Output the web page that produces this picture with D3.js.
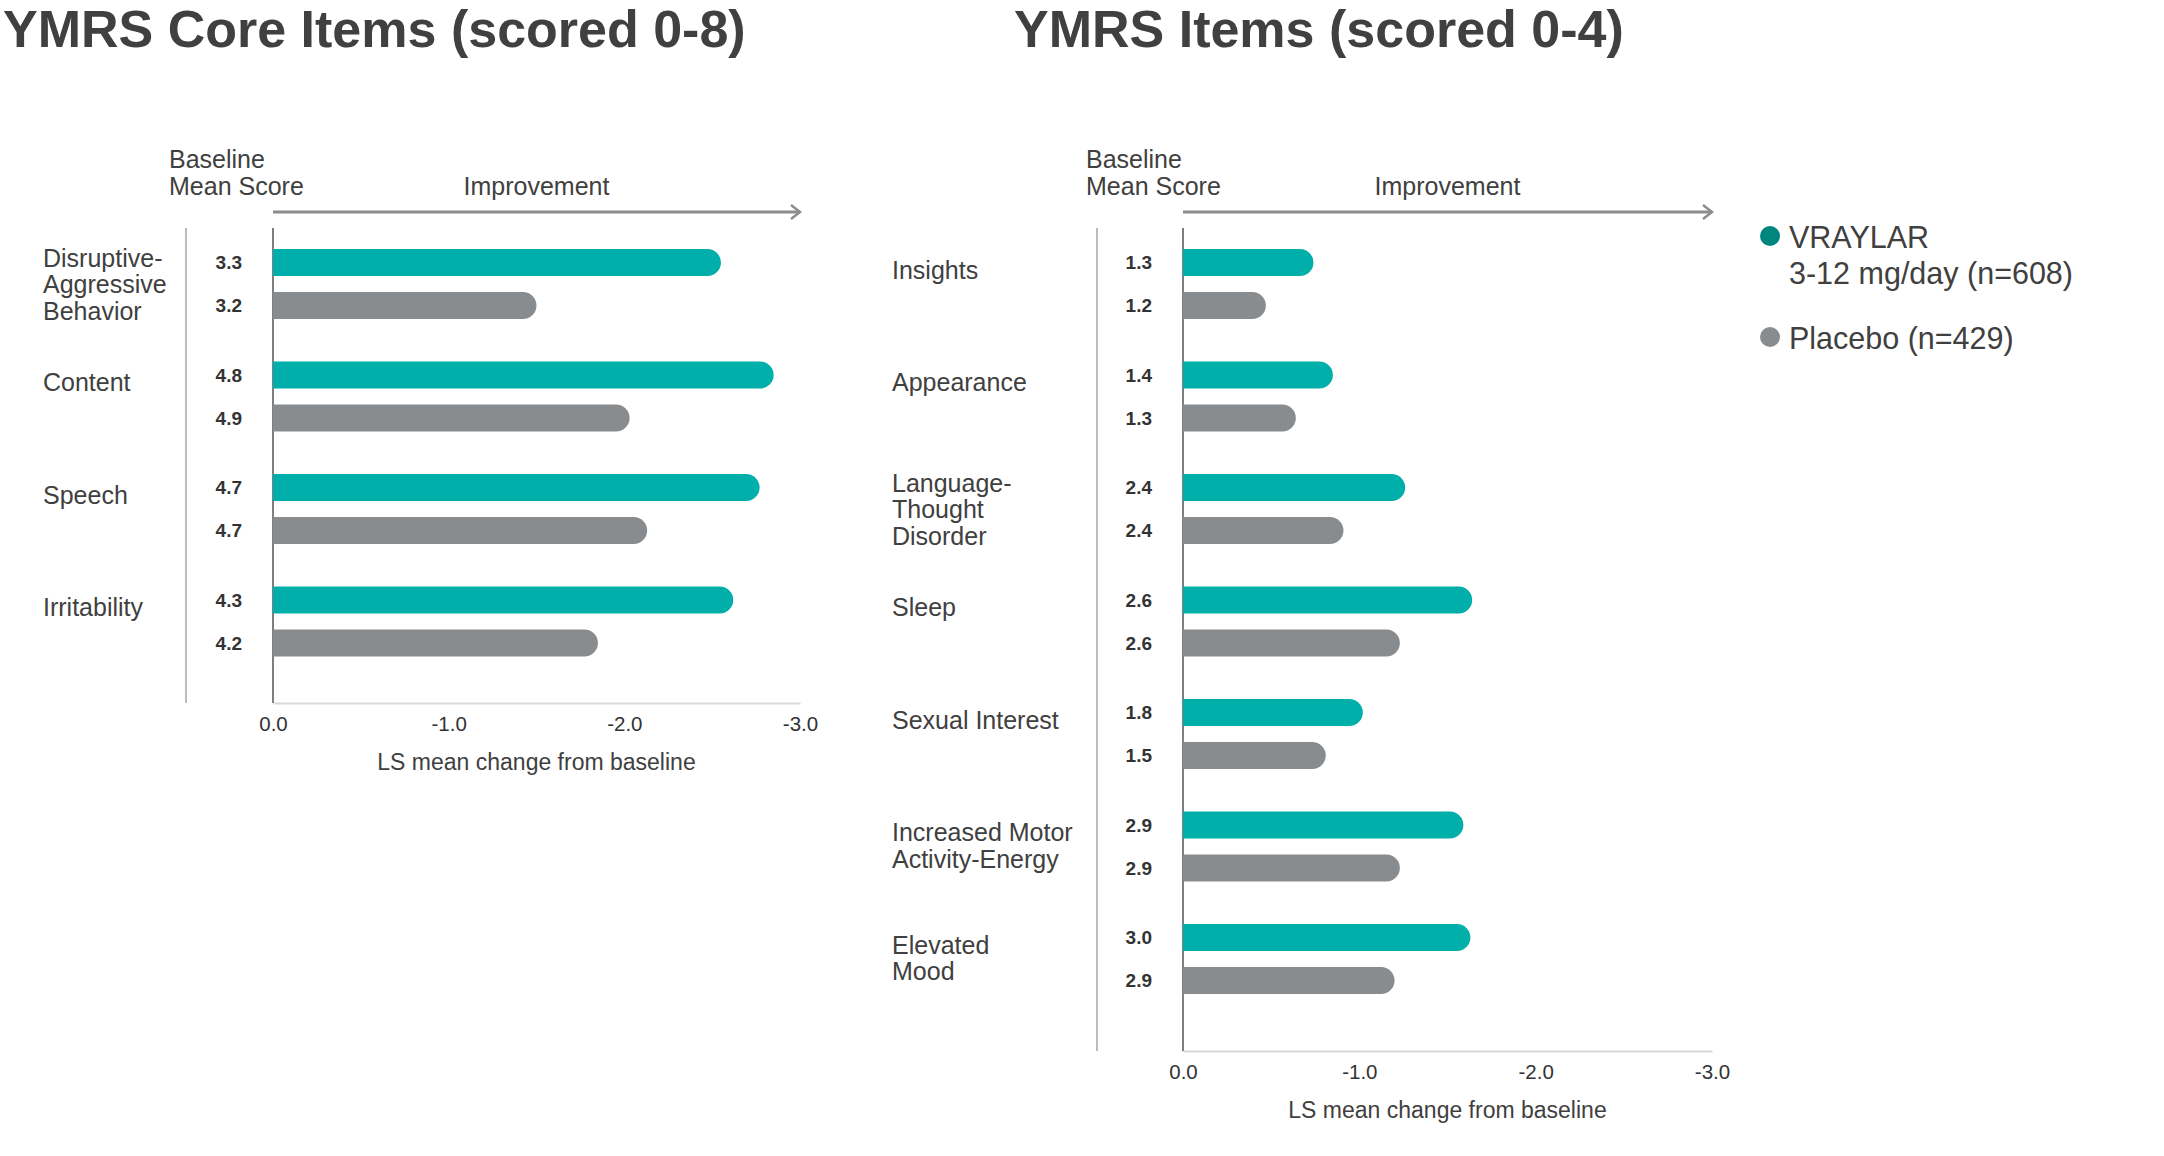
<!DOCTYPE html>
<html>
<head>
<meta charset="utf-8">
<script src="https://cdn.jsdelivr.net/npm/d3@7"></script>
<style>
  body { margin: 0; background: #fff; }
  svg { display: block; font-family: "Liberation Sans", Arial, sans-serif; }
</style>
</head>
<body>
<svg width="2164" height="1156"></svg>
<script>
// core items (scored 0-8)
var coreItems = [["Disruptive-", "Aggressive", "Behavior"], ["Content"], ["Speech"], ["Irritability"]];
var coreVraylar = [-2.55, -2.85, -2.77, -2.62];
var corePlacebo = [-1.50, -2.03, -2.13, -1.85];
var coreBaseVraylar = ["3.3", "4.8", "4.7", "4.3"];
var coreBasePlacebo = ["3.2", "4.9", "4.7", "4.2"];

// other items (scored 0-4)
var items = [["Insights"], ["Appearance"], ["Language-", "Thought", "Disorder"], ["Sleep"],
  ["Sexual Interest"], ["Increased Motor", "Activity-Energy"], ["Elevated", "Mood"]];
var itemVraylar = [-0.74, -0.85, -1.26, -1.64, -1.02, -1.59, -1.63];
var itemPlacebo = [-0.47, -0.64, -0.91, -1.23, -0.81, -1.23, -1.20];
var itemBaseVraylar = ["1.3", "1.4", "2.4", "2.6", "1.8", "2.9", "3.0"];
var itemBasePlacebo = ["1.2", "1.3", "2.4", "2.6", "1.5", "2.9", "2.9"];

var xTicks = [0, -1, -2, -3];
var seriesNames = ["VRAYLAR", "Placebo"];
var legendLines = [["VRAYLAR", "3-12 mg/day (n=608)"], ["Placebo (n=429)"]];

var teal = "#00afa9", grey = "#898c8e", text = "#404040";
var svg = d3.select("svg");

function pillPath(x0, x1, y, h) {
  var r = h / 2;
  if (x1 - x0 < r) r = Math.max(0, x1 - x0);
  return "M" + x0 + "," + y + "H" + (x1 - r) +
    "A" + r + "," + r + " 0 0 1 " + (x1 - r) + "," + (y + h) +
    "H" + x0 + "Z";
}

function panel(opt) {
  var g = svg.append("g");
  var n = opt.labels.length;
  var x = d3.scaleLinear().domain([0, -3]).range([opt.axisX, opt.axisX + opt.width]);
  var y = d3.scaleBand().domain(d3.range(n)).range([240, 240 + n * 112.5]);
  var inner = d3.scaleBand().domain(seriesNames).range([9, 79]).paddingInner(0.372);
  var bh = inner.bandwidth();

  g.append("text").attr("x", opt.titleX).attr("y", 47)
    .attr("font-size", 52).attr("font-weight", "bold").attr("fill", text)
    .text(opt.title);

  // header
  g.append("text").attr("x", opt.headerX).attr("y", 168).attr("font-size", 25).attr("fill", text).text("Baseline");
  g.append("text").attr("x", opt.headerX).attr("y", 195).attr("font-size", 25).attr("fill", text).text("Mean Score");
  g.append("text").attr("x", opt.axisX + opt.width / 2).attr("y", 195).attr("text-anchor", "middle")
    .attr("font-size", 25).attr("fill", text).text("Improvement");
  var ax1 = opt.axisX + opt.width;
  g.append("line").attr("x1", opt.axisX).attr("x2", ax1).attr("y1", 212).attr("y2", 212)
    .attr("stroke", "#8c8c8c").attr("stroke-width", 3);
  g.append("path").attr("d", "M" + (ax1 - 9) + ",205L" + ax1 + ",212L" + (ax1 - 9) + ",219")
    .attr("fill", "none").attr("stroke", "#8c8c8c").attr("stroke-width", 2.5);

  // vertical lines
  g.append("line").attr("x1", opt.refX).attr("x2", opt.refX).attr("y1", 228).attr("y2", opt.bottom)
    .attr("stroke", "#a6a6a6").attr("stroke-width", 1.5);

  // x axis
  var axis = g.append("g").attr("transform", "translate(0," + opt.bottom + ")")
    .call(d3.axisBottom(x).tickValues(xTicks).tickSize(0).tickPadding(13)
      .tickFormat(function (d) { return d.toFixed(1); }));
  axis.select(".domain").attr("stroke", "#d9d9d9").attr("stroke-width", 2);
  axis.selectAll("text").attr("font-size", 20.5).attr("fill", "#333")
    .attr("font-family", "\"Liberation Sans\", Arial, sans-serif");
  g.append("text").attr("x", opt.axisX + opt.width / 2).attr("y", opt.bottom + 67)
    .attr("text-anchor", "middle").attr("font-size", 23).attr("fill", text)
    .text("LS mean change from baseline");

  g.append("line").attr("x1", opt.axisX).attr("x2", opt.axisX).attr("y1", 228).attr("y2", opt.bottom)
    .attr("stroke", "#555").attr("stroke-width", 1.5);

  var rows = [];
  d3.range(n).forEach(function (i) {
    rows.push({ i: i, s: "VRAYLAR", v: opt.vraylar[i], base: opt.baseV[i], c: teal });
    rows.push({ i: i, s: "Placebo", v: opt.placebo[i], base: opt.baseP[i], c: grey });
  });

  g.selectAll(".bar").data(rows).enter().append("path")
    .attr("class", "bar")
    .attr("fill", function (d) { return d.c; })
    .attr("d", function (d) {
      return pillPath(x(0), x(d.v), y(d.i) + inner(d.s), bh);
    });

  g.selectAll(".base").data(rows).enter().append("text")
    .attr("class", "base")
    .attr("x", opt.valueX)
    .attr("y", function (d) { return y(d.i) + inner(d.s) + bh / 2; })
    .attr("dy", "0.36em").attr("text-anchor", "end")
    .attr("font-size", 19).attr("font-weight", "bold").attr("fill", "#333")
    .text(function (d) { return d.base; });

  // category labels
  var lab = g.selectAll(".cat").data(opt.labels).enter().append("text")
    .attr("class", "cat").attr("font-size", 25).attr("fill", text)
    .attr("y", function (d, i) {
      var tc = y(i) + inner("VRAYLAR") + bh / 2;
      return tc + 16 - (d.length > 2 ? (d.length - 2) * 12 : 0);
    });
  lab.selectAll("tspan").data(function (d) { return d; }).enter().append("tspan")
    .attr("x", opt.labelX)
    .attr("dy", function (d, j) { return j === 0 ? 0 : 26.5; })
    .text(function (d) { return d; });
}

panel({
  title: "YMRS Core Items (scored 0-8)", titleX: 3,
  labels: coreItems, vraylar: coreVraylar, placebo: corePlacebo,
  baseV: coreBaseVraylar, baseP: coreBasePlacebo,
  labelX: 43, refX: 186, axisX: 273, width: 527, valueX: 242, headerX: 169, bottom: 703
});

panel({
  title: "YMRS Items (scored 0-4)", titleX: 1014,
  labels: items, vraylar: itemVraylar, placebo: itemPlacebo,
  baseV: itemBaseVraylar, baseP: itemBasePlacebo,
  labelX: 892, refX: 1097, axisX: 1183, width: 529, valueX: 1152, headerX: 1086, bottom: 1051
});

// legend
var legend = svg.append("g").selectAll("g").data(legendLines).enter().append("g")
  .attr("transform", function (d, i) { return "translate(1770," + (i === 0 ? 236 : 337) + ")"; });
legend.append("circle").attr("r", 10)
  .attr("fill", function (d, i) { return i === 0 ? "#00857f" : grey; });
legend.append("text").attr("font-size", 30.5).attr("fill", text).attr("y", 12)
  .selectAll("tspan").data(function (d) { return d; }).enter().append("tspan")
  .attr("x", 19).attr("dy", function (d, j) { return j === 0 ? 0 : 35.5; })
  .text(function (d) { return d; });
</script>
</body>
</html>
